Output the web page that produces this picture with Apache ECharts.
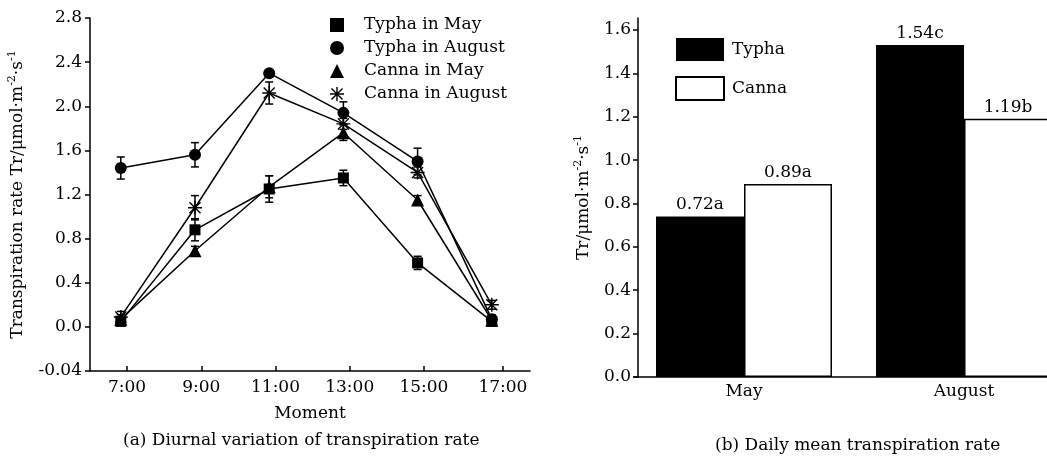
<!DOCTYPE html>
<html lang="en">
<head>
    <meta charset="UTF-8">
    <title>Transpiration rate</title>
    <script src="https://cdn.jsdelivr.net/npm/echarts@6/dist/echarts.min.js"></script>
</head>
<body style="margin:0">
<div id="main" style="width: 1047px;height: 457px"></div>
<script>
    // (a) diurnal variation
    var hours = [7, 9, 11, 13, 15, 17];
    var tickPos = [7.17, 9.17, 11.17, 13.17, 15.17, 17.3];   // x ticks sit a little right of the points
    var typhaMay = [0.05, 0.88, 1.25, 1.35, 0.58, 0.05];
    var typhaMayErr = [0.04, 0.10, 0.12, 0.07, 0.06, 0.04];
    var typhaAug = [1.44, 1.56, 2.30, 1.94, 1.50, 0.07];
    var typhaAugErr = [0.10, 0.11, 0.03, 0.10, 0.12, 0.04];
    var cannaMay = [0.07, 0.69, 1.27, 1.76, 1.15, 0.06];
    var cannaMayErr = [0.04, 0.04, 0.10, 0.07, 0.04, 0.03];
    var cannaAug = [0.09, 1.08, 2.12, 1.84, 1.40, 0.20];
    var cannaAugErr = [0.05, 0.11, 0.10, 0.05, 0.05, 0.04];

    // (b) daily mean
    var months = ['May', 'August'];
    var typhaMean = [0.74, 1.53];
    var cannaMean = [0.89, 1.19];
    var typhaText = ['0.72a', '1.54c'];
    var cannaText = ['0.89a', '1.19b'];
    var barTicks = [0, 0.2, 0.4, 0.6, 0.8, 1.0, 1.2, 1.4, 1.6];

    var font = 'DejaVu Serif';
    var fs = 17;
    var black = '#000';
    var starPath = 'path://M0,9L20,9L20,11L0,11Z M9,0L11,0L11,20L9,20Z ' +
        'M1.4,2.8L2.8,1.4L18.6,17.2L17.2,18.6Z M17.2,1.4L18.6,2.8L2.8,18.6L1.4,17.2Z';

    function pts(ys) {
        return hours.map(function (h, i) { return [h, ys[i]]; });
    }
    var errData = [];
    [[typhaMay, typhaMayErr], [typhaAug, typhaAugErr], [cannaMay, cannaMayErr], [cannaAug, cannaAugErr]]
        .forEach(function (s) {
            hours.forEach(function (h, i) {
                errData.push([h, s[0][i] - s[1][i], s[0][i] + s[1][i]]);
            });
        });

    function lineSeries(name, ys, symbol, size) {
        return {
            name: name, type: 'line', data: pts(ys),
            xAxisIndex: 0, yAxisIndex: 0,
            symbol: symbol, symbolSize: size,
            lineStyle: {color: black, width: 1.5},
            itemStyle: {color: black},
            z: 3
        };
    }

    var rich = {
        n: {fontFamily: font, fontSize: fs, color: black},
        sup: {fontFamily: font, fontSize: 11, color: black, padding: [0, 0, 10, 0]}
    };
    var unit = '{n|Tr/\u03bcmol\u00b7m}{sup|-2}{n|\u00b7s}{sup|-1}';
    var txt = {fontFamily: font, fontSize: fs, color: black};

    var myChart = echarts.init(document.getElementById('main'));
    var option = {
        backgroundColor: '#fff',
        animation: false,
        textStyle: {fontFamily: font, color: black},
        grid: [
            {left: 90, top: 18, right: 517, bottom: 86, outerBoundsMode: 'none'},
            {left: 634, top: 18, right: -27, bottom: 80, outerBoundsMode: 'none'}
        ],
        legend: [{
            orient: 'vertical', left: 325, top: 11,
            itemWidth: 14, itemHeight: 14, itemGap: 5,
            textStyle: {fontFamily: font, fontSize: fs, color: black, lineHeight: 18, padding: [0, 0, 0, 15]},
            data: [
                {name: 'Typha in May', icon: 'rect'},
                {name: 'Typha in August', icon: 'circle'},
                {name: 'Canna in May', icon: 'triangle'},
                {name: 'Canna in August', icon: starPath}
            ]
        }, {
            orient: 'vertical', left: 670, top: 33,
            itemWidth: 48, itemHeight: 23, itemGap: 15,
            textStyle: {fontFamily: font, fontSize: fs, color: black, lineHeight: 20, padding: [0, 0, 0, 3]},
            data: [{name: 'Typha', icon: 'rect'}, {name: 'Canna', icon: 'rect'}]
        }],
        xAxis: [{
            gridIndex: 0, type: 'value', min: 6.17, max: 18.03,
            name: 'Moment', nameLocation: 'middle', nameGap: 34,
            nameTextStyle: txt,
            axisLine: {onZero: false, lineStyle: {color: black, width: 1.5}},
            axisTick: {inside: true, length: 5, customValues: tickPos, lineStyle: {color: black, width: 1.5}},
            axisLabel: {
                customValues: tickPos, fontSize: fs, color: black, fontFamily: font, margin: 8,
                formatter: function (v) { return Math.floor(v) + ':00'; }
            },
            splitLine: {show: false}
        }, {
            gridIndex: 1, type: 'category', data: months,
            axisLine: {onZero: false, lineStyle: {color: black, width: 1.5}},
            axisTick: {show: false},
            axisLabel: {fontSize: fs, color: black, fontFamily: font, margin: 6}
        }],
        yAxis: [{
            gridIndex: 0, type: 'value', min: -0.4, max: 2.8, interval: 0.4,
            name: '{n|Transpiration rate }' + unit,
            nameLocation: 'middle', nameGap: 62,
            nameTextStyle: {rich: rich, fontFamily: font, fontSize: fs, color: black},
            axisLine: {show: true, lineStyle: {color: black, width: 1.5}},
            axisTick: {show: true, length: 5, lineStyle: {color: black, width: 1.5}},
            axisLabel: {
                fontSize: fs, color: black, fontFamily: font, margin: 8,
                formatter: function (v) {
                    return Math.abs(v + 0.4) < 1e-6 ? '-0.04' : v.toFixed(1);
                }
            },
            splitLine: {show: false}
        }, {
            gridIndex: 1, type: 'value', min: 0, max: 1.655, interval: 0.2, offset: -4,
            name: unit,
            nameLocation: 'middle', nameGap: 44,
            nameTextStyle: {rich: rich, fontFamily: font, fontSize: fs, color: black},
            axisLine: {show: true, lineStyle: {color: black, width: 1.5}},
            axisTick: {show: true, length: 5, customValues: barTicks, lineStyle: {color: black, width: 1.5}},
            axisLabel: {
                customValues: barTicks,
                fontSize: fs, color: black, fontFamily: font, margin: 7,
                formatter: function (v) { return v.toFixed(1); }
            },
            splitLine: {show: false}
        }],
        graphic: [
            {type: 'text', left: 123, top: 432,
                style: {text: '(a) Diurnal variation of transpiration rate', font: fs + 'px "DejaVu Serif"', fill: black}},
            {type: 'text', left: 715, top: 437,
                style: {text: '(b) Daily mean transpiration rate', font: fs + 'px "DejaVu Serif"', fill: black}}
        ],
        series: [
            {
                name: 'err', type: 'custom', xAxisIndex: 0, yAxisIndex: 0,
                data: errData, encode: {x: 0, y: [1, 2]}, z: 2,
                renderItem: function (params, api) {
                    var lo = api.coord([api.value(0), api.value(1)]);
                    var hi = api.coord([api.value(0), api.value(2)]);
                    var w = 4;
                    var st = {stroke: black, lineWidth: 1.5};
                    return {
                        type: 'group', children: [
                            {type: 'line', shape: {x1: lo[0], y1: lo[1], x2: hi[0], y2: hi[1]}, style: st},
                            {type: 'line', shape: {x1: lo[0] - w, y1: lo[1], x2: lo[0] + w, y2: lo[1]}, style: st},
                            {type: 'line', shape: {x1: hi[0] - w, y1: hi[1], x2: hi[0] + w, y2: hi[1]}, style: st}
                        ]
                    };
                }
            },
            lineSeries('Typha in May', typhaMay, 'rect', 11),
            lineSeries('Typha in August', typhaAug, 'circle', 12),
            lineSeries('Canna in May', cannaMay, 'triangle', 13),
            lineSeries('Canna in August', cannaAug, starPath, 14),
            {
                name: 'Typha', type: 'bar', xAxisIndex: 1, yAxisIndex: 1,
                data: typhaMean, barWidth: 88, barGap: '0%',
                itemStyle: {color: black},
                label: {
                    show: true, position: 'top', distance: 3, fontSize: fs, color: black, fontFamily: font,
                    formatter: function (p) { return typhaText[p.dataIndex]; }
                }
            },
            {
                name: 'Canna', type: 'bar', xAxisIndex: 1, yAxisIndex: 1,
                data: cannaMean, barWidth: 88, barGap: '0%',
                itemStyle: {color: '#fff', borderColor: black, borderWidth: 1.5},
                label: {
                    show: true, position: 'top', distance: 3, fontSize: fs, color: black, fontFamily: font,
                    formatter: function (p) { return cannaText[p.dataIndex]; }
                }
            }
        ]
    };
    myChart.setOption(option);
</script>
</body>
</html>
